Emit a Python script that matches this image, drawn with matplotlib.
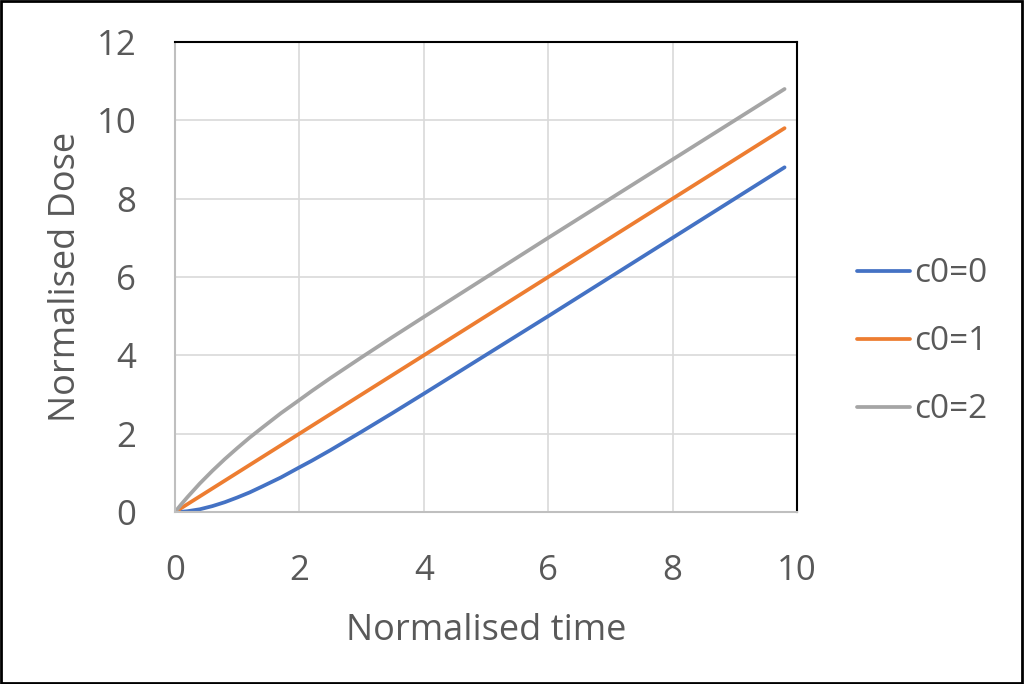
import numpy as np
import matplotlib.pyplot as plt
from matplotlib.patches import Rectangle

# values
t = [0, 0.1, 0.2, 0.4, 0.6, 0.8, 1.0, 1.2, 1.4, 1.7, 2, 2.2, 2.5, 3, 3.5, 4, 5, 6, 7, 8, 9, 9.8]
dose_c0 = [0, 0.005, 0.02, 0.07, 0.15, 0.25, 0.37, 0.50, 0.65, 0.88, 1.14, 1.31, 1.58, 2.05, 2.53,
           3.02, 4.01, 5.0, 6.0, 7.0, 8.0, 8.8]
dose_c1 = [0, 0.1, 0.2, 0.4, 0.6, 0.8, 1.0, 1.2, 1.4, 1.7, 2, 2.2, 2.5, 3, 3.5,
           4, 5, 6, 7, 8, 9, 9.8]
dose_c2 = [0, 0.195, 0.38, 0.73, 1.05, 1.35, 1.63, 1.90, 2.15, 2.52, 2.86, 3.09, 3.42, 3.95, 4.47,
           4.98, 5.99, 7.0, 8.0, 9.0, 10.0, 10.8]
labels = ['c0=0', 'c0=1', 'c0=2']
xticks = [0, 2, 4, 6, 8, 10]
yticks = [0, 2, 4, 6, 8, 10, 12]

plt.rcParams['font.family'] = ['Open Sans', 'DejaVu Sans']
txt = '#595959'

fig = plt.figure(figsize=(10.24, 6.84), dpi=100)
ax = fig.add_axes([175/1024, 1-512/684, 622/1024, 470/684])

ax.plot(t, dose_c0, color='#4472C4', lw=2.7, label=labels[0], solid_capstyle='round')
ax.plot(t, dose_c1, color='#ED7D31', lw=2.7, label=labels[1], solid_capstyle='round')
ax.plot(t, dose_c2, color='#A5A5A5', lw=2.7, label=labels[2], solid_capstyle='round')

ax.set_xlim(0, 10)
ax.set_ylim(0, 12)
ax.set_xticks(xticks)
ax.set_yticks(yticks)
ax.grid(color='#d9d9d9', lw=1.2)
ax.set_axisbelow(True)
ax.tick_params(length=0, labelsize=25, labelcolor=txt)
ax.tick_params(axis='x', pad=30)
ax.tick_params(axis='y', pad=28)

for s in ['left', 'bottom']:
    ax.spines[s].set_color('#bfbfbf')
    ax.spines[s].set_linewidth(1.5)
for s in ['top', 'right']:
    ax.spines[s].set_color('black')
    ax.spines[s].set_linewidth(1.5)

ax.set_xlabel('Normalised time', fontsize=26, color=txt, labelpad=18)
ax.set_ylabel('Normalised Dose', fontsize=26, color=txt, labelpad=9)

leg = fig.legend(loc='center left', bbox_to_anchor=(857/1024, 1-342/684),
                 frameon=False, fontsize=24, handlelength=1.6, labelspacing=1.05,
                 handletextpad=0.12, borderpad=0, borderaxespad=0)
for tx in leg.get_texts():
    tx.set_color(txt)

fig.patches.append(Rectangle((0.001, 0.002), 0.997, 0.996, transform=fig.transFigure,
                             fill=False, edgecolor='black', lw=2))

fig.savefig('out.png', dpi=100, facecolor='white')
